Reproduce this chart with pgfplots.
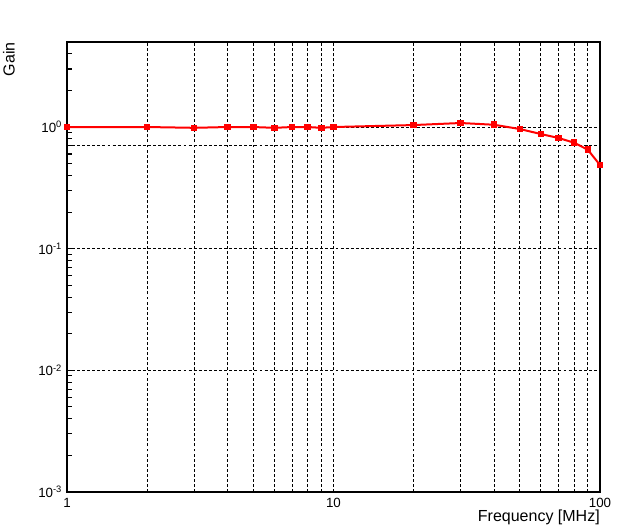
\documentclass[border=0pt]{standalone}
\usepackage{fontspec}
\setmainfont{Liberation Sans}
\usepackage{pgfplots}
\pgfplotsset{compat=1.18}
\begin{document}
\begin{tikzpicture}
\path[use as bounding box] (0,0) rectangle (480pt,397.5pt);
\begin{axis}[
  at={(50.25pt,28.5pt)}, anchor=south west,
  scale only axis, width=399.75pt, height=337.5pt,
  xmode=log, ymode=log,
  xmin=1, xmax=100, ymin=0.001, ymax=5,
  axis line style={line width=1.6pt, black},
  xtick={1,10,100}, xticklabels={1,10,100},
  ytick={0.001,0.01,0.1,1},
  minor ytick={0.002,0.003,0.004,0.005,0.006,0.007,0.008,0.009,0.02,0.03,0.04,0.05,0.06,0.07,0.08,0.09,0.2,0.3,0.4,0.5,0.6,0.7,0.8,0.9,2,3,4},
  yticklabels={10\textsuperscript{-3},10\textsuperscript{-2},10\textsuperscript{-1},10\textsuperscript{0}},
  xtick style={draw=none},
  ytick pos=left,
  tick align=inside,
  major tick length=6pt, minor tick length=3.5pt,
  ytick style={line width=0.8pt, black},
  xmajorgrids, xminorgrids, ymajorgrids,
  grid style={black, line width=0.6pt, dash pattern=on 2.2pt off 1.6pt},
  major grid style={black, line width=0.6pt, dash pattern=on 2.2pt off 1.6pt},
  minor grid style={black, line width=0.6pt, dash pattern=on 2.2pt off 1.6pt},
  extra y ticks={0.707}, extra y tick labels={},
  extra y tick style={grid=major, major tick length=0pt},
  ticklabel style={font=\fontsize{10}{12}\selectfont},
  yticklabel style={inner sep=0pt, xshift=-3.5pt},
  xticklabel style={inner sep=0pt, yshift=-4.5pt},
  xlabel={Frequency [MHz]},
  xlabel style={at={(axis description cs:1,0)}, anchor=north east, inner sep=0pt, yshift=-13.5pt, font=\fontsize{12}{14}\selectfont},
  ylabel={Gain},
  ylabel style={at={(axis description cs:-0.0976,1)}, anchor=south east, inner sep=0pt, font=\fontsize{12}{14}\selectfont},
]
\addplot[red, line width=1.5pt, mark=square*, mark size=1.7pt, mark options={solid, fill=red}] coordinates {
(1,1.0) (2,1.0) (3,0.985) (4,1.0) (5,1.0) (6,0.985) (7,1.0) (8,1.0) (9,0.985) (10,1.0)
(20,1.038) (30,1.079) (40,1.044) (50,0.963) (60,0.876) (70,0.812) (80,0.743) (90,0.651) (100,0.487)
};
\end{axis}
\end{tikzpicture}
\end{document}
